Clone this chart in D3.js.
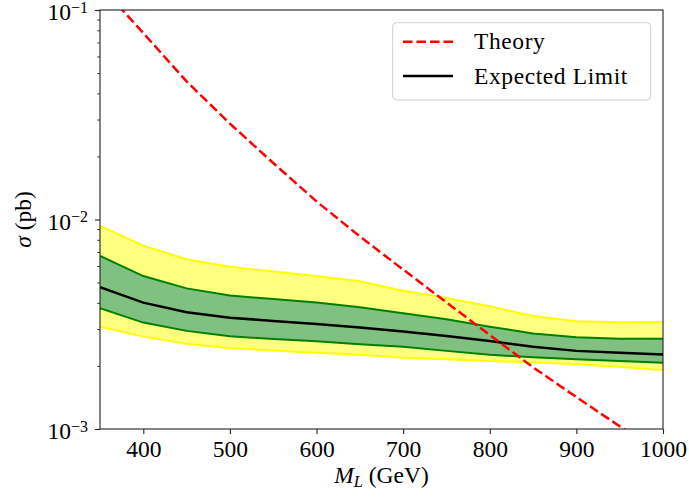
<!DOCTYPE html>
<html>
<head>
<meta charset="utf-8">
<script src="https://cdn.jsdelivr.net/npm/d3@7"></script>
<style>
  body { margin: 0; background: #fff; }
  svg { display: block; }
  svg text { font-family: "Liberation Serif", "Times New Roman", serif; fill: #000; }
</style>
</head>
<body>
<div id="chart"></div>
<script>
// Masses (GeV) and cross sections (pb).
const masses   = [350, 400, 450, 500, 550, 600, 650, 700, 750, 800, 850, 900, 950, 1000];
const expected = [0.00475, 0.00401, 0.00361, 0.00340, 0.00328, 0.00317, 0.00305, 0.00292, 0.00278, 0.00263, 0.00247, 0.00236, 0.00231, 0.00227];
const plus1    = [0.00670, 0.00537, 0.00469, 0.00434, 0.00417, 0.00402, 0.00381, 0.00357, 0.00334, 0.00308, 0.00286, 0.00274, 0.00270, 0.00270];
const minus1   = [0.00377, 0.00322, 0.00294, 0.00277, 0.00269, 0.00262, 0.00254, 0.00247, 0.00236, 0.00226, 0.00220, 0.00215, 0.00211, 0.00207];
const plus2    = [0.00931, 0.00750, 0.00646, 0.00595, 0.00564, 0.00537, 0.00507, 0.00457, 0.00422, 0.00385, 0.00346, 0.00327, 0.00323, 0.00324];
const minus2   = [0.00308, 0.00276, 0.00255, 0.00243, 0.00237, 0.00231, 0.00226, 0.00219, 0.00215, 0.00211, 0.00208, 0.00204, 0.00198, 0.00191];
const theory   = [0.131, 0.0776, 0.0456, 0.0287, 0.0186, 0.0122, 0.0083, 0.00577, 0.00402, 0.00281, 0.00197, 0.00142, 0.00103, 0.000752];

const xTicks = [400, 500, 600, 700, 800, 900, 1000];
const yTicks = [1e-3, 1e-2, 1e-1];
const yExps  = [-3, -2, -1];

const width = 689, height = 498;
const margin = { left: 100, right: 26, top: 10, bottom: 69 };
const fs = 23.5; // font size for all texts
const serif = '"Liberation Serif", "Times New Roman", serif';

const svg = d3.select('#chart').append('svg')
    .attr('width', width)
    .attr('height', height)
    .attr('font-family', serif);

const x = d3.scaleLinear().domain([350, 1000]).range([margin.left, width - margin.right]);
const y = d3.scaleLog().domain([1e-3, 1e-1]).range([height - margin.bottom, margin.top]);

// clip everything to the axes box
svg.append('clipPath').attr('id', 'clip')
  .append('rect')
    .attr('x', x.range()[0]).attr('y', y.range()[1])
    .attr('width', x.range()[1] - x.range()[0])
    .attr('height', y.range()[0] - y.range()[1]);

const plot = svg.append('g').attr('clip-path', 'url(#clip)');

const band = (lo, hi) => d3.area()
    .x((d, i) => x(masses[i]))
    .y0((d, i) => y(lo[i]))
    .y1((d, i) => y(hi[i]));
const line = vals => d3.line()
    .x((d, i) => x(masses[i]))
    .y((d, i) => y(vals[i]))(vals);

// 2 sigma band (yellow)
plot.append('path')
    .attr('d', band(minus2, plus2)(masses))
    .attr('fill', '#ffff80');
[minus2, plus2].forEach(v => plot.append('path')
    .attr('d', line(v)).attr('fill', 'none')
    .attr('stroke', '#ffff00').attr('stroke-width', 2));

// 1 sigma band (green)
plot.append('path')
    .attr('d', band(minus1, plus1)(masses))
    .attr('fill', '#80c080');
[minus1, plus1].forEach(v => plot.append('path')
    .attr('d', line(v)).attr('fill', 'none')
    .attr('stroke', '#008000').attr('stroke-width', 2));

// expected limit
plot.append('path')
    .attr('d', line(expected)).attr('fill', 'none')
    .attr('stroke', '#000').attr('stroke-width', 2.5);

// theory
plot.append('path')
    .attr('d', line(theory)).attr('fill', 'none')
    .attr('stroke', '#ff0000').attr('stroke-width', 2.5)
    .attr('stroke-dasharray', '9.5,4');

// axes box
svg.append('rect')
    .attr('x', x.range()[0]).attr('y', y.range()[1])
    .attr('width', x.range()[1] - x.range()[0])
    .attr('height', y.range()[0] - y.range()[1])
    .attr('fill', 'none').attr('stroke', '#222').attr('stroke-width', 1.1);

// x axis
const xAxis = svg.append('g')
    .attr('transform', `translate(0,${y.range()[0]})`)
    .call(d3.axisBottom(x).tickValues(xTicks).tickSize(5).tickSizeOuter(0).tickFormat(d3.format('d')));
xAxis.attr('font-family', serif);
xAxis.select('.domain').remove();
xAxis.selectAll('line').attr('stroke', '#222').attr('stroke-width', 1.1);
xAxis.selectAll('text')
    .attr('y', 28).attr('dy', null)
    .attr('font-size', fs)
    .attr('fill', '#000');

// y axis, major ticks with powers of ten
const yAxis = svg.append('g')
    .attr('transform', `translate(${x.range()[0]},0)`)
    .call(d3.axisLeft(y).tickValues(yTicks).tickSize(5).tickSizeOuter(0).tickFormat(''));
yAxis.attr('font-family', serif);
yAxis.select('.domain').remove();
yAxis.selectAll('line').attr('stroke', '#222').attr('stroke-width', 1.1);
yAxis.selectAll('.tick text').remove();
yAxis.selectAll('.tick').each(function (d, i) {
    const t = d3.select(this).append('text')
        .attr('x', -12).attr('y', 9.5)
        .attr('text-anchor', 'end')
        .attr('font-size', fs);
    t.append('tspan').text('10');
    t.append('tspan').attr('dy', -7.5).attr('font-size', fs * 0.68).text('\u2212' + Math.abs(yExps[i]));
});

// y axis, minor ticks
const minor = [];
[1e-3, 1e-2].forEach(dec => { for (let k = 2; k <= 9; k++) minor.push(dec * k); });
const yMinor = svg.append('g')
    .attr('transform', `translate(${x.range()[0]},0)`)
    .call(d3.axisLeft(y).tickValues(minor).tickSize(2.8).tickSizeOuter(0).tickFormat(''));
yMinor.select('.domain').remove();
yMinor.selectAll('line').attr('stroke', '#222').attr('stroke-width', 0.9);

// axis labels
const xl = svg.append('text')
    .attr('x', (x.range()[0] + x.range()[1]) / 2)
    .attr('y', 483)
    .attr('text-anchor', 'middle')
    .attr('font-size', fs);
xl.append('tspan').attr('font-style', 'italic').text('M');
xl.append('tspan').attr('font-style', 'italic').attr('font-size', fs * 0.7).attr('dy', 4).text('L');
xl.append('tspan').attr('dy', -4).text(' (GeV)');

const yl = svg.append('text')
    .attr('transform', `translate(31,${(y.range()[0] + y.range()[1]) / 2}) rotate(-90)`)
    .attr('text-anchor', 'middle')
    .attr('font-size', fs);
yl.append('tspan').attr('font-style', 'italic').text('\u03c3');
yl.append('tspan').text(' (pb)');

// legend
const lg = svg.append('g');
lg.append('rect')
    .attr('x', 392.7).attr('y', 22.7)
    .attr('width', 258).attr('height', 77.3)
    .attr('rx', 4)
    .attr('fill', '#fff').attr('fill-opacity', 0.8)
    .attr('stroke', '#d0d0d0').attr('stroke-width', 1);
const items = [
    { label: 'Theory', color: '#ff0000', dash: '9.5,4', y: 41.7 },
    { label: 'Expected Limit', color: '#000', dash: null, y: 76 }
];
items.forEach(it => {
    lg.append('line')
        .attr('x1', 403).attr('x2', 453)
        .attr('y1', it.y).attr('y2', it.y)
        .attr('stroke', it.color).attr('stroke-width', 2.5)
        .attr('stroke-dasharray', it.dash);
    lg.append('text')
        .attr('x', 474).attr('y', it.y + 7.5)
        .attr('font-size', fs)
        .attr('letter-spacing', 0.6)
        .text(it.label);
});
</script>
</body>
</html>
